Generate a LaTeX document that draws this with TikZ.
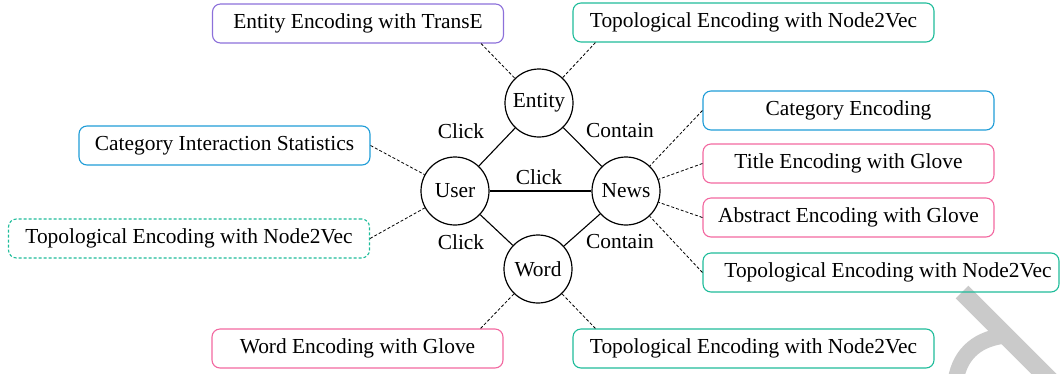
\documentclass[tikz,border=0pt]{standalone}
\usepackage{fontspec}
\setmainfont{Liberation Serif}
\usetikzlibrary{positioning}

\definecolor{cpurple}{RGB}{140,112,218}
\definecolor{cteal}{RGB}{30,188,154}
\definecolor{cblue}{RGB}{30,156,215}
\definecolor{cpink}{RGB}{242,104,160}
\definecolor{cmark}{RGB}{202,202,202}

\tikzset{
  every node/.style={font=\fontsize{21.4}{26}\selectfont},
  entity/.style={draw, circle, minimum size=68pt, inner sep=0pt, line width=1.2pt},
  feat/.style={draw, rounded corners=8pt, minimum height=39pt, inner sep=0pt, line width=1.1pt},
  shortbox/.style={feat, minimum width=291pt},
  longbox/.style={feat, minimum width=361pt},
  rel/.style={line width=1.1pt},
  link/.style={line width=0.8pt, dash pattern=on 3pt off 2pt},
  lbl/.style={inner sep=0pt},
}

\begin{document}
\begin{tikzpicture}[x=1pt, y=-1pt]
\useasboundingbox (0,0) rectangle (1060,373);

% grey glyph fragment in the lower right corner
\draw[cmark, line width=18pt] (962,292) -- (1055,385);
\draw[cmark, line width=16pt] (955,385) .. controls (958,356) and (975,340) .. (1002,336);

% entity types
\node[entity] (ent)  at (539,103) {Entity};
\node[entity] (user) at (455,191) {User};
\node[entity] (news) at (626,191) {News};
\node[entity] (word) at (538,269) {Word};

% relations
\draw[rel] (user) -- (ent);
\draw[rel] (ent) -- (news);
\draw[rel] (user) -- (news);
\draw[rel] (user) -- (word);
\draw[rel] (word) -- (news);

\node[lbl] (lUE) at (461,131) {Click};
\node[lbl] (lEN) at (620,131) {Contain};
\node[lbl] (lUN) at (539,177) {Click};
\node[lbl] (lUW) at (461,242) {Click};
\node[lbl] (lWN) at (620,242) {Contain};

% feature encodings
\node[shortbox, cpurple] (bTransE) at (358,23.5) {\color{black}Entity Encoding with TransE};
\node[longbox, cteal]    (bTopoE)  at (753.5,22.5) {\color{black}Topological Encoding with Node2Vec};

\node[shortbox, cblue]  (bCatStat) at (224.5,145.5) {\color{black}Category Interaction Statistics};
\node[longbox, cteal, dash pattern=on 3pt off 2pt] (bTopoU) at (189,238.5) {\color{black}Topological Encoding with Node2Vec};

\node[shortbox, cblue] (bCat)   at (848.5,110.5) {\color{black}Category Encoding};
\node[shortbox, cpink] (bTitle) at (848.5,163.5) {\color{black}Title Encoding with Glove};
\node[shortbox, cpink] (bAbs)   at (848.5,217.5) {\color{black}Abstract Encoding with Glove};
\node[feat, cteal, minimum width=356pt] (bTopoN) at (881,272.5) {\color{black}\hspace*{14pt}Topological Encoding with Node2Vec};

\node[shortbox, cpink] (bWordG) at (357.5,348.5) {\color{black}Word Encoding with Glove};
\node[longbox, cteal]  (bTopoW) at (753.5,348.5) {\color{black}Topological Encoding with Node2Vec};

% feature links
\draw[link] ([xshift=-23pt]bTransE.south east) -- (ent);
\draw[link] ([xshift=23pt]bTopoE.south west) -- (ent);
\draw[link] (bCatStat.east) -- (user);
\draw[link] (bTopoU.east) -- (user);
\draw[link] (bCat.west) -- (news);
\draw[link] (bTitle.west) -- (news);
\draw[link] (bAbs.west) -- (news);
\draw[link] (bTopoN.west) -- (news);
\draw[link] ([xshift=-23pt]bWordG.north east) -- (word);
\draw[link] ([xshift=23pt]bTopoW.north west) -- (word);
\end{tikzpicture}
\end{document}
